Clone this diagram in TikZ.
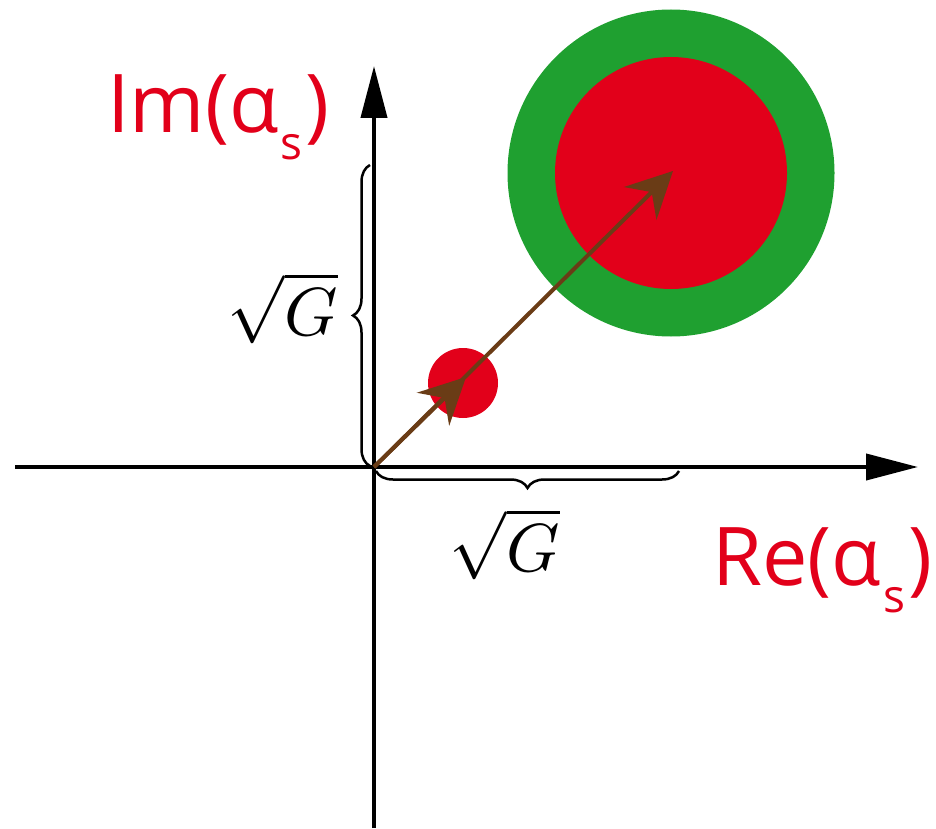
\documentclass[tikz,border=0pt]{standalone}
\usepackage{fontspec}
\setsansfont{Open Sans}
\usetikzlibrary{arrows.meta,decorations.pathreplacing}
\definecolor{cred}{RGB}{226,0,26}
\definecolor{cgreen}{RGB}{31,160,48}
\definecolor{cbrown}{RGB}{106,60,22}
\newcommand{\subs}[1]{\kern2pt\raisebox{-27pt}{\fontsize{46}{46}\selectfont #1}\kern3pt}
\tikzset{
  axis/.style={line width=4pt,-{Triangle[length=52pt,width=26pt]}},
  vec/.style={cbrown,line width=4pt,-{Stealth[length=46pt,width=46pt,inset=16pt]}},
  bracestyle/.style={line width=2.5pt,decorate,decoration={brace,amplitude=17pt,aspect=0.5}},
  lbl/.style={cred,font=\sffamily\fontsize{81}{90}\selectfont,inner sep=0pt,anchor=base west},
  glbl/.style={scale=6.8,inner sep=0pt}
}
\begin{document}
\begin{tikzpicture}[x=1pt,y=-1pt]
\useasboundingbox (0,0) rectangle (936,829);
% circles
\fill[cgreen] (671,173) circle (163.5);
\fill[cred] (671,173) circle (116);
\fill[cred] (463,383) circle (35);
% axes
\coordinate (O) at (374,467);
\coordinate (xs) at (15,467);
\coordinate (xe) at (918,467);
\coordinate (ys) at (374,828);
\coordinate (ye) at (374,66);
\draw[axis] (xs) -- (xe);
\draw[axis] (ys) -- (ye);
% braces
\coordinate (vb1) at (370,466);
\coordinate (vb2) at (370,165);
\coordinate (hb1) at (679,471);
\coordinate (hb2) at (376,471);
\draw[bracestyle] (vb1) -- (vb2);
\draw[bracestyle] (hb1) -- (hb2);
% vectors
\coordinate (a1) at (466,377);
\coordinate (a2) at (673,171);
\draw[vec] (O) -- (a2);
\draw[vec] (O) -- (a1);
% labels
\node[lbl] (im) at (107,133) {Im(α\subs{s})};
\node[lbl] (re) at (712,585) {Re(α\subs{s})};
\node[glbl] (g1) at (283,308) {$\sqrt{G}$};
\node[glbl] (g2) at (505,544) {$\sqrt{G}$};
\end{tikzpicture}
\end{document}
